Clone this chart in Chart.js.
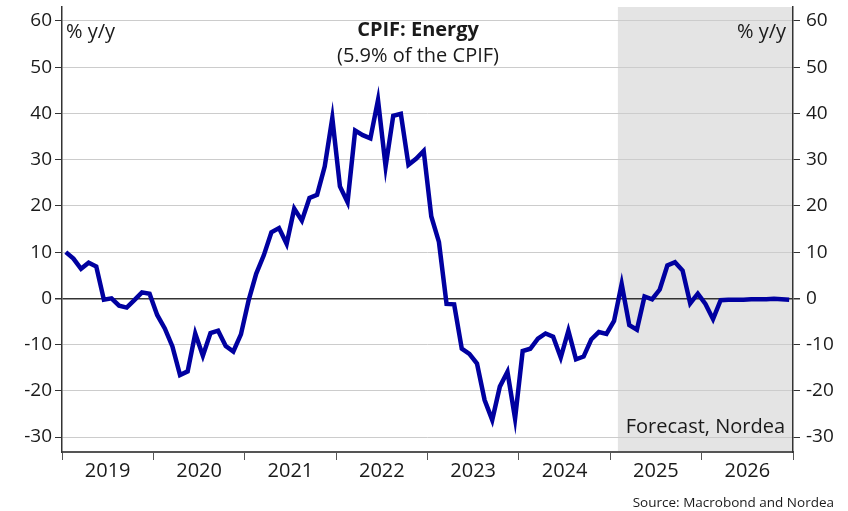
<!DOCTYPE html>
<html>
<head>
<meta charset="utf-8">
<script src="https://cdn.jsdelivr.net/npm/chart.js@4.4.1/dist/chart.umd.min.js"></script>
<style>
  html, body { margin: 0; padding: 0; background: #fff; }
  #wrap { width: 848px; height: 511px; }
</style>
</head>
<body>
<div id="wrap"><canvas id="cpifChart" width="848" height="511"></canvas></div>
<script>
// Year labels on the x axis (monthly data, Jan 2019 - Dec 2026)
const years = ['2019', '2020', '2021', '2022', '2023', '2024', '2025', '2026'];

// CPIF energy, % y/y, one value per month
const energy = [
    10.0, 8.6, 6.4, 7.7, 6.9, -0.3, 0.0, -1.6, -2.0, -0.4, 1.3, 1.0,
    -3.6, -6.5, -10.4, -16.6, -15.8, -7.6, -12.4, -7.5, -7.0, -10.3, -11.5, -7.8,
    -0.5, 5.3, 9.3, 14.3, 15.2, 11.8, 19.4, 16.8, 21.7, 22.4, 28.5, 39.0,
    24.2, 20.8, 36.3, 35.3, 34.6, 42.9, 28.5, 39.5, 39.9, 28.9, 30.2, 31.9,
    17.7, 12.2, -1.2, -1.3, -10.9, -12.0, -14.1, -22.0, -26.3, -19.1, -15.9, -26.0,
    -11.4, -10.9, -8.7, -7.6, -8.3, -12.8, -7.0, -13.2, -12.6, -8.9, -7.3, -7.7,
    -4.9, 3.1, -5.8, -6.8, 0.4, -0.2, 1.9, 7.1, 7.8, 6.0, -1.1, 1.0,
    -1.2, -4.5, -0.4, -0.3, -0.3, -0.3, -0.2, -0.2, -0.2, -0.1, -0.2, -0.3
];

// Tick values on both y axes
const yTicks = [-30, -20, -10, 0, 10, 20, 30, 40, 50, 60];

// Forecast period starts at this month index (Feb 2025)
const forecastStart = 73;

const FONT = '"Open Sans", "DejaVu Sans", sans-serif';
const TEXT = '#1a1a1a';

const points = energy.map((v, i) => ({ x: i + 0.5, y: v }));
const monthCount = years.length * 12;

// Grey forecast area, drawn under the grid
const forecastShade = {
    id: 'forecastShade',
    beforeDraw(chart) {
        const { ctx, chartArea, scales } = chart;
        const x0 = scales.x.getPixelForValue(forecastStart);
        ctx.save();
        ctx.fillStyle = '#e4e4e4';
        ctx.fillRect(x0, chartArea.top, chartArea.right - x0, chartArea.bottom - chartArea.top);
        ctx.restore();
    }
};

// Texts inside the plot plus year labels and source
const annotations = {
    id: 'annotations',
    afterDraw(chart) {
        const { ctx, chartArea, scales } = chart;
        const cx = 418;
        ctx.save();
        ctx.fillStyle = TEXT;
        ctx.textBaseline = 'middle';

        ctx.textAlign = 'center';
        ctx.font = 'bold 20px ' + FONT;
        ctx.fillText('CPIF: Energy', cx, 30);
        ctx.font = '20px ' + FONT;
        ctx.fillText('(5.9% of the CPIF)', cx, 56);

        ctx.textAlign = 'left';
        ctx.fillText('% y/y', chartArea.left + 4, 32);
        ctx.textAlign = 'right';
        ctx.fillText('% y/y', chartArea.right - 7, 32);
        ctx.fillText('Forecast, Nordea', chartArea.right - 8, 427);

        ctx.textAlign = 'center';
        years.forEach((yr, i) => {
            ctx.fillText(yr, scales.x.getPixelForValue(i * 12 + 6), 471);
        });

        ctx.textAlign = 'right';
        ctx.font = '13.5px ' + FONT;
        ctx.fillText('Source: Macrobond and Nordea', 834, 503);
        ctx.restore();
    }
};

const yAxis = (side) => ({
    type: 'linear',
    position: side,
    min: -33.24,
    max: 63.02,
    afterBuildTicks: axis => { axis.ticks = yTicks.map(v => ({ value: v })); },
    afterFit: axis => {
        axis.width = side === 'left' ? 62 : 55;
        axis.paddingTop = 0;
        axis.paddingBottom = 0;
    },
    border: { display: true, color: '#333', width: 1.5 },
    grid: {
        drawOnChartArea: side === 'left',
        color: ctx => (ctx.tick && ctx.tick.value === 0 ? '#333' : '#cccccc'),
        lineWidth: ctx => (ctx.tick && ctx.tick.value === 0 ? 1.5 : 1),
        tickColor: '#333',
        tickLength: 7
    },
    ticks: {
        color: TEXT,
        font: { family: FONT, size: 19 },
        padding: side === 'left' ? 3 : 6
    }
});

new Chart(document.getElementById('cpifChart'), {
    type: 'line',
    data: {
        datasets: [{
            label: 'CPIF: Energy',
            data: points,
            borderColor: '#0000a0',
            borderWidth: 4.5,
            pointRadius: 0,
            tension: 0,
            fill: false
        }]
    },
    options: {
        responsive: false,
        animation: false,
        layout: { padding: { top: 7, left: 0, right: 0, bottom: 0 } },
        plugins: {
            legend: { display: false },
            tooltip: { enabled: false }
        },
        scales: {
            x: {
                type: 'linear',
                min: 0,
                max: monthCount,
                afterBuildTicks: axis => {
                    axis.ticks = years.concat(['']).map((_, i) => ({ value: i * 12 }));
                },
                afterFit: axis => {
                    axis.height = 59;
                    axis.paddingLeft = 0;
                    axis.paddingRight = 0;
                },
                border: { display: true, color: '#555', width: 2 },
                grid: {
                    drawOnChartArea: false,
                    tickColor: '#555',
                    tickLength: 8
                },
                ticks: { display: false }
            },
            y: yAxis('left'),
            y2: yAxis('right')
        }
    },
    plugins: [forecastShade, annotations]
});
</script>
</body>
</html>
